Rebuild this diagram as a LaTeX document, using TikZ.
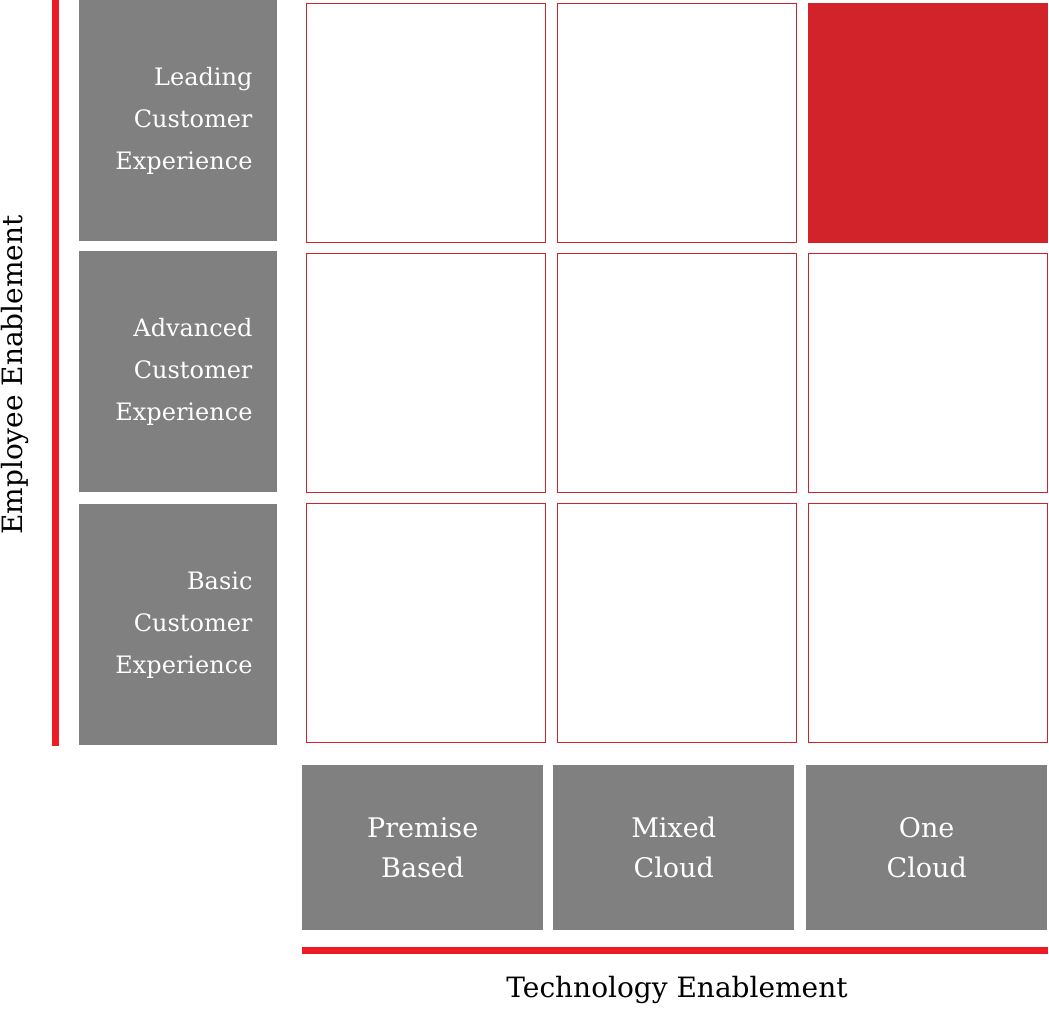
\documentclass[tikz,border=0pt]{standalone}
\usepackage{fontspec}
\setmainfont{DejaVu Serif}
\definecolor{boxgray}{HTML}{808080}
\definecolor{cellred}{HTML}{D3232A}
\definecolor{barred}{HTML}{ED1C24}
\tikzstyle{rowbox} = [rectangle, fill=boxgray, text=white, minimum width=198pt, minimum height=241pt,
    font=\fontsize{24}{42}\selectfont, align=right, inner sep=0pt]
\tikzstyle{colbox} = [rectangle, fill=boxgray, text=white, minimum width=241pt, minimum height=165pt,
    font=\fontsize{27}{40}\selectfont, align=center, inner sep=0pt]
\tikzstyle{cell} = [rectangle, draw=cellred, fill=white, minimum width=239pt, minimum height=239pt, inner sep=0pt]
\tikzstyle{axis} = [draw=barred, line width=7pt]
\tikzstyle{title} = [font=\fontsize{28}{34}\selectfont, inner sep=0pt]
\begin{document}
\begin{tikzpicture}[x=1pt, y=-1pt]
\useasboundingbox (0,0) rectangle (1049,1010);
%Rows
\node (Leading)[rowbox, anchor=north west] at (79,0){};
\node[anchor=east, align=right, font=\fontsize{24}{42}\selectfont, text=white] at (256,121){Leading\\Customer\\Experience};
\node (Advanced)[rowbox, anchor=north west] at (79,251){};
\node[anchor=east, align=right, font=\fontsize{24}{42}\selectfont, text=white] at (256,372){Advanced\\Customer\\Experience};
\node (Basic)[rowbox, anchor=north west] at (79,504){};
\node[anchor=east, align=right, font=\fontsize{24}{42}\selectfont, text=white] at (256,625){Basic\\Customer\\Experience};
%Cells
\foreach \c/\x in {1/306,2/557,3/808}
  \foreach \r/\y in {1/3,2/253,3/503}
    \node (Cell\r\c)[cell, anchor=north west] at (\x,\y){};
\node (Target)[cell, fill=cellred, anchor=north west] at (808,3){};
%Columns
\node (Premise)[colbox, anchor=north west] at (302,765){Premise\\Based};
\node (Mixed)[colbox, anchor=north west] at (553,765){Mixed\\Cloud};
\node (One)[colbox, anchor=north west] at (806,765){One\\Cloud};
%Axes
\coordinate (VTop) at (55,0);
\coordinate (VBot) at (55,746);
\path[axis] (VTop)--(VBot);
\coordinate (HLeft) at (302,950);
\coordinate (HRight) at (1048,950);
\path[axis] (HLeft)--(HRight);
\node (Tech)[title] at (677,990){Technology Enablement};
\node (Empl)[title, rotate=90] at (15,375){Employee Enablement};
\end{tikzpicture}
\end{document}
